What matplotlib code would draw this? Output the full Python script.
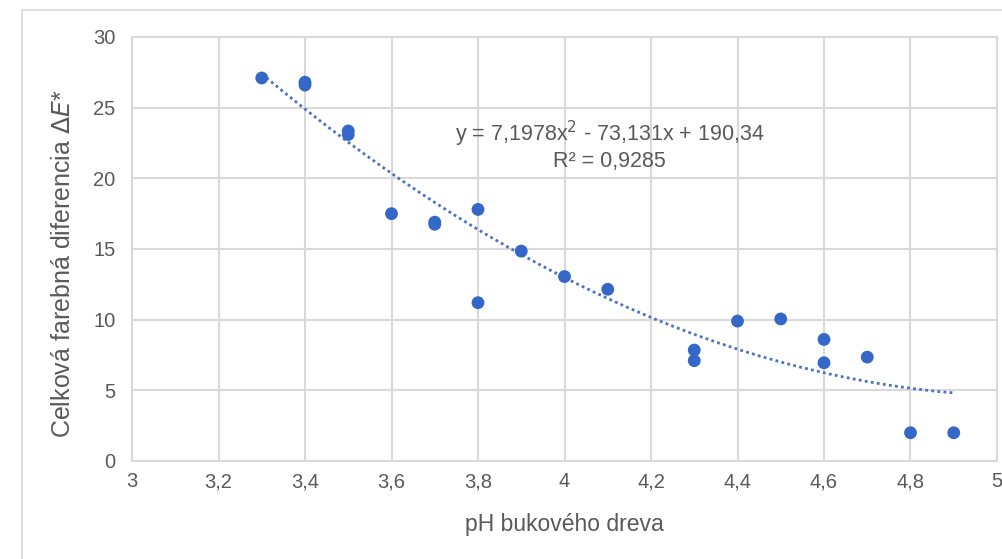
import numpy as np
import matplotlib
matplotlib.use("Agg")
import matplotlib.pyplot as plt
from matplotlib.patches import Rectangle

plt.rcParams['font.family'] = ['Liberation Sans', 'DejaVu Sans']

# Measured samples: beech wood pH vs. total colour difference
ph = [3.3, 3.4, 3.4, 3.5, 3.5, 3.6, 3.7, 3.7, 3.8, 3.8, 3.9, 4.0, 4.1,
      4.3, 4.3, 4.4, 4.5, 4.6, 4.6, 4.7, 4.8, 4.9]
delta_e = [27.1, 26.8, 26.6, 23.35, 23.1, 17.5, 16.9, 16.75, 17.8, 11.2, 14.85, 13.05, 12.15,
           7.85, 7.1, 9.9, 10.05, 8.6, 6.95, 7.35, 2.0, 2.0]

# Second-order polynomial trend
coef = [7.1978, -73.131, 190.34]
trend_range = [3.3, 4.9]

x_ticks = [3.0, 3.2, 3.4, 3.6, 3.8, 4.0, 4.2, 4.4, 4.6, 4.8, 5.0]
x_tick_labels = ['3', '3,2', '3,4', '3,6', '3,8', '4', '4,2', '4,4', '4,6', '4,8', '5']
y_ticks = [0, 5, 10, 15, 20, 25, 30]

blue = '#3467c8'
grid_c = '#d9d9d9'
text_c = '#595959'

W, H = 1003, 559
fig = plt.figure(figsize=(W / 100, H / 100), dpi=100)
fig.patch.set_facecolor('white')

# chart frame
fig.patches.append(Rectangle((22 / W, -0.01), 1.02 - 22 / W, 1 - 10 / H + 0.01,
                             transform=fig.transFigure, fill=False,
                             edgecolor='#d9d9d9', linewidth=1.2))

ax = fig.add_axes([132 / W, 1 - 461 / H, (997 - 132) / W, (461 - 37) / H])
ax.set_xlim(3, 5)
ax.set_ylim(0, 30)
ax.set_xticks(x_ticks)
ax.set_xticklabels(x_tick_labels)
ax.set_yticks(y_ticks)
ax.grid(True, color=grid_c, linewidth=1.5)
ax.set_axisbelow(True)
for s in ax.spines.values():
    s.set_color(grid_c)
    s.set_linewidth(1.5)
ax.tick_params(length=0, labelsize=14.5, labelcolor=text_c)
ax.tick_params(axis='x', pad=8)
ax.tick_params(axis='y', pad=12)

xs = np.linspace(trend_range[0], trend_range[1], 200)
ax.plot(xs, np.polyval(coef, xs), linestyle=(0, (1, 1.2)), color='#4a72c4',
        linewidth=2.0, zorder=2)
ax.scatter(ph, delta_e, s=85, color=blue, edgecolors='none', zorder=3)

ax.text(0.552, 0.745, 'y = 7,1978x$^2$ - 73,131x + 190,34\nR² = 0,9285',
        transform=ax.transAxes, ha='center', va='center', fontsize=15.5,
        color=text_c, linespacing=1.15)

ax.set_xlabel('pH bukového dreva', fontsize=16.5, color=text_c, labelpad=16)
ax.set_ylabel('Celková farebná diferencia $\\mathit{\\Delta E}$*', fontsize=18,
              color=text_c)
ax.yaxis.set_label_coords(-57 / 865, 0.465)

fig.savefig('out.png', dpi=100, facecolor='white')
